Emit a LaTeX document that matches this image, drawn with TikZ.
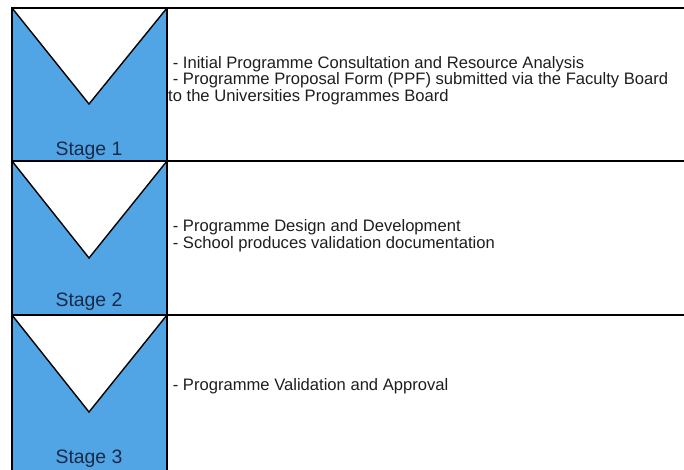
\documentclass[tikz,border=0pt]{standalone}
\usepackage{fontspec}
\setmainfont{Liberation Sans}
\definecolor{stageblue}{RGB}{82,165,228}
\definecolor{stagetext}{RGB}{25,42,72}
\definecolor{bodytext}{RGB}{30,30,30}
\begin{document}
\begin{tikzpicture}[x=1pt,y=-1pt,
  rowline/.style={line width=2pt,black},
  vee/.style={fill=white,draw=black,line width=1.4pt,line join=miter},
  stagelabel/.style={anchor=base,inner sep=0pt,text=stagetext,font=\fontsize{19.4}{22}\selectfont},
  bodylabel/.style={anchor=base west,inner sep=0pt,align=left,text=bodytext,font=\fontsize{16.6}{16.2}\selectfont}]
\useasboundingbox (0,0) rectangle (684,469);
% blue column
\fill[stageblue] (12,8) rectangle (167,472);
% V shapes
\coordinate (v1a) at (12,8);   \coordinate (v1b) at (167,8);   \coordinate (v1c) at (89,104);
\coordinate (v2a) at (12,161); \coordinate (v2b) at (167,161); \coordinate (v2c) at (89,258);
\coordinate (v3a) at (12,315); \coordinate (v3b) at (167,315); \coordinate (v3c) at (89,412);
\draw[vee] (v1a) -- (v1c) -- (v1b);
\draw[vee] (v2a) -- (v2c) -- (v2b);
\draw[vee] (v3a) -- (v3c) -- (v3b);
% grid lines
\coordinate (l0a) at (11,8);   \coordinate (l0b) at (690,8);
\coordinate (l1a) at (11,161); \coordinate (l1b) at (690,161);
\coordinate (l2a) at (11,315); \coordinate (l2b) at (690,315);
\coordinate (c1a) at (12,7);   \coordinate (c1b) at (12,475);
\coordinate (c2a) at (167,7);  \coordinate (c2b) at (167,475);
\draw[rowline] (l0a) -- (l0b);
\draw[rowline] (l1a) -- (l1b);
\draw[rowline] (l2a) -- (l2b);
\draw[rowline] (c1a) -- (c1b);
\draw[rowline] (c2a) -- (c2b);
% stage labels
\node[stagelabel] (s1) at (89,155) {Stage 1};
\node[stagelabel] (s2) at (89,306) {Stage 2};
\node[stagelabel] (s3) at (89,463) {Stage 3};
% body text (base anchor = baseline of last line)
\node[bodylabel] (b1) at (168,101) {\ - Initial Programme Consultation and Resource Analysis\\\ - Programme Proposal Form (PPF) submitted via the Faculty Board\\to the Universities Programmes Board};
\node[bodylabel] (b2) at (168,248) {\ - Programme Design and Development\\\ - School produces validation documentation};
\node[bodylabel] (b3) at (168,390) {\ - Programme Validation and Approval};
\end{tikzpicture}
\end{document}
